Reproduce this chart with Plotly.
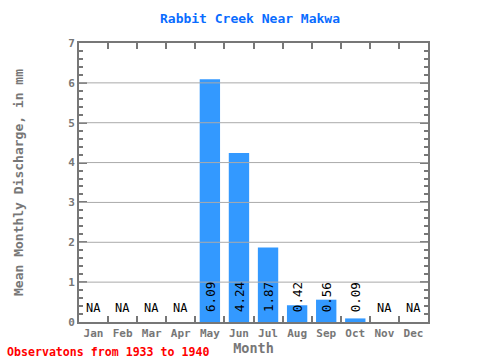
import plotly.graph_objects as go

months = ["Jan", "Feb", "Mar", "Apr", "May", "Jun", "Jul", "Aug", "Sep", "Oct", "Nov", "Dec"]
values = [None, None, None, None, 6.09, 4.24, 1.87, 0.42, 0.56, 0.09, None, None]
y_ticks = [0, 1, 2, 3, 4, 5, 6, 7]

FONT = "DejaVu Sans Mono"
AX = "#777777"

fig = go.Figure()
fig.add_trace(go.Bar(
    x=months, y=[v if v is not None else 0 for v in values],
    marker=dict(color="#3399ff", line=dict(width=0)),
    width=0.7, hoverinfo="skip",
))

annotations = []
for m, v in zip(months, values):
    if v is None:
        annotations.append(dict(x=m, y=0.35, xref="x", yref="y", text="NA",
                                showarrow=False, font=dict(family=FONT, size=12, color="black")))
    else:
        annotations.append(dict(x=m, y=0.2, xref="x", yref="y", text=f"{v:.2f}",
                                textangle=-90, yanchor="bottom", showarrow=False,
                                font=dict(family=FONT, size=12.5, color="black")))

annotations.append(dict(x=(5 - 79) / 349, y=-(352 - 322) / 279, xref="paper", yref="paper",
                        xanchor="left", yanchor="middle",
                        text="<b>Observatons from 1933 to 1940</b>", showarrow=False,
                        font=dict(family=FONT, size=11.6, color="red")))

shapes = []
for t in y_ticks[1:-1]:
    shapes.append(dict(type="line", xref="paper", yref="y", x0=0, x1=1, y0=t, y1=t,
                       line=dict(color="#aaaaaa", width=1), layer="above"))

fig.update_layout(
    width=480, height=360,
    margin=dict(l=79, r=52, t=43, b=38),
    paper_bgcolor="white", plot_bgcolor="white",
    showlegend=False,
    title=dict(text="<b>Rabbit Creek Near Makwa</b>", x=250 / 480, xanchor="center", y=1 - 18/360,
               yanchor="middle", font=dict(family=FONT, size=13, color="#0a6cff")),
    annotations=annotations, shapes=shapes,
)
fig.update_xaxes(
    type="category", range=[-0.5, 11.5], tickson="boundaries", automargin=False,
    ticks="inside", ticklen=6, tickwidth=2, tickcolor=AX, tickangle=0,
    showline=True, linewidth=2, linecolor=AX, mirror="allticks",
    showgrid=False,
    tickfont=dict(family=FONT, size=11, color=AX, weight="bold"),
    title=dict(text="<b>Month</b>", font=dict(family=FONT, size=13.5, color=AX), standoff=3),
)
fig.update_yaxes(
    range=[0, 7], tickvals=y_ticks, automargin=False,
    ticks="inside", ticklen=8, tickwidth=2, tickcolor=AX,
    minor=dict(dtick=0.2, ticks="inside", ticklen=4, tickwidth=1.5, tickcolor=AX, showgrid=False),
    showline=True, linewidth=2, linecolor=AX, mirror="allticks",
    showgrid=False, zeroline=False,
    tickfont=dict(family=FONT, size=11, color=AX, weight="bold"),
    title=dict(text="<b>Mean Monthly Discharge, in mm</b>", font=dict(family=FONT, size=13, color=AX), standoff=42),
)

fig.write_html("out.html", config={"displayModeBar": False},
               post_script="document.body.style.margin='0';document.body.style.padding='0';")
